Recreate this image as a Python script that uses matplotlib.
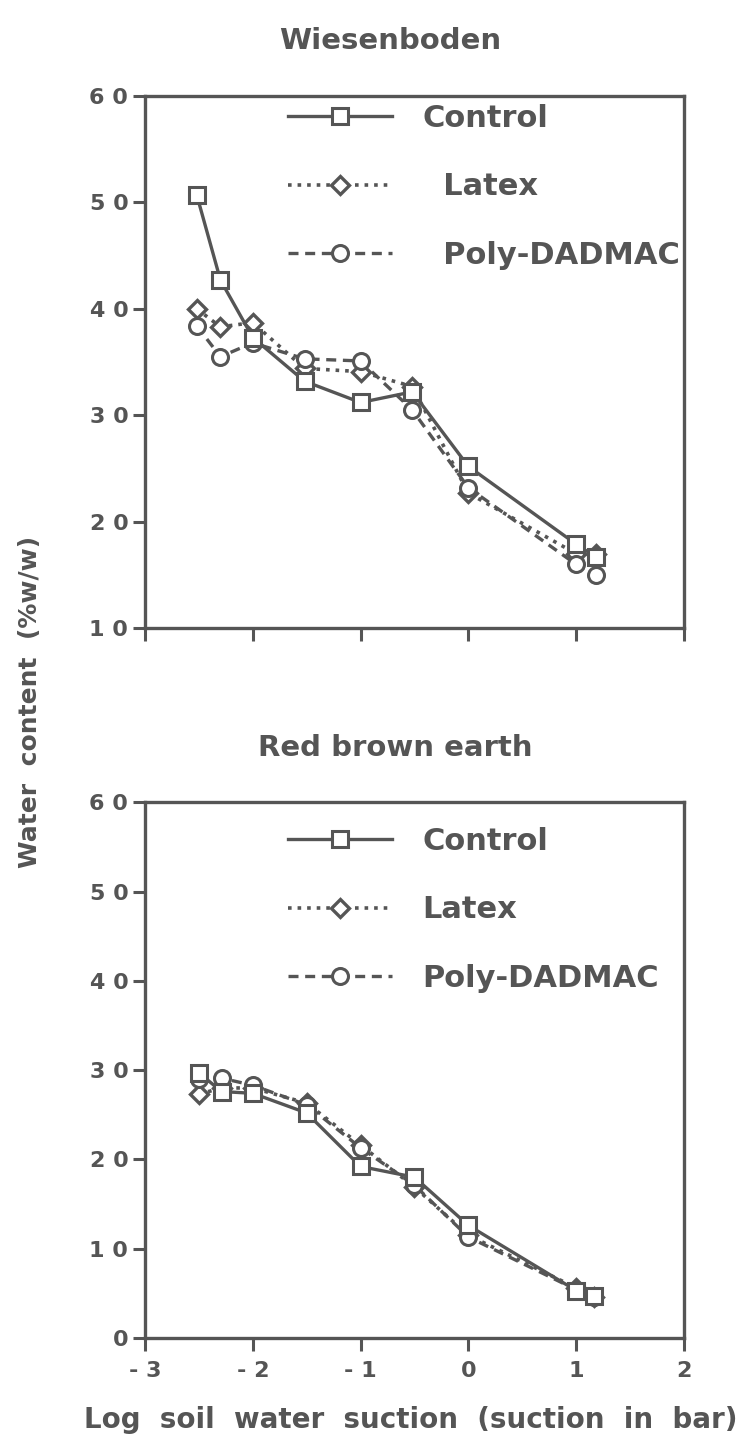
import numpy as np
import matplotlib
matplotlib.use("Agg")
import matplotlib.pyplot as plt

plt.rcParams['font.family'] = ['DejaVu Sans']
plt.rcParams['font.weight'] = 'bold'

ink = '#555555'

# Wiesenboden
wb_ctrl_x = [-2.52, -2.30, -2.0, -1.52, -1.0, -0.52, 0.0, 1.0, 1.18]
wb_ctrl_y = [50.7, 42.7, 37.3, 33.2, 31.2, 32.2, 25.2, 17.9, 16.7]
wb_latex_x = [-2.52, -2.30, -2.0, -1.52, -1.0, -0.52, 0.0, 1.0, 1.18]
wb_latex_y = [40.0, 38.3, 38.7, 34.4, 34.1, 32.7, 22.7, 17.0, 17.0]
wb_poly_x = [-2.52, -2.30, -2.0, -1.52, -1.0, -0.52, 0.0, 1.0, 1.18]
wb_poly_y = [38.4, 35.5, 36.8, 35.3, 35.1, 30.5, 23.2, 16.0, 15.0]

# Red brown earth
rb_ctrl_x = [-2.50, -2.29, -2.0, -1.50, -1.0, -0.50, 0.0, 1.0, 1.17]
rb_ctrl_y = [29.7, 27.6, 27.4, 25.2, 19.2, 18.0, 12.6, 5.3, 4.7]
rb_latex_x = [-2.50, -2.29, -2.0, -1.50, -1.0, -0.50, 0.0, 1.0, 1.17]
rb_latex_y = [27.3, 28.0, 28.0, 26.3, 21.6, 16.9, 11.5, 5.6, 4.6]
rb_poly_x = [-2.50, -2.29, -2.0, -1.50, -1.0, -0.50, 0.0, 1.0, 1.17]
rb_poly_y = [29.0, 29.1, 28.3, 26.1, 21.3, 17.1, 11.3, 5.4, 4.6]

x_ticks = [-3, -2, -1, 0, 1, 2]
x_labels = ['- 3', '- 2', '- 1', '0', '1', '2']
wb_yticks = [10, 20, 30, 40, 50, 60]
rb_yticks = [0, 10, 20, 30, 40, 50, 60]
wb_names = ['Control', '  Latex', '  Poly-DADMAC']
rb_names = ['Control', 'Latex', 'Poly-DADMAC']

fig = plt.figure(figsize=(7.37, 14.51), dpi=100)
ax1 = fig.add_axes([0.1967, 0.567, 0.7313, 0.367])
ax2 = fig.add_axes([0.1967, 0.078, 0.7313, 0.369])


def draw(ax, cx, cy, lx, ly, px, py, yticks, ylim, names, leg_y):
    ax.plot(cx, cy, '-', color=ink, lw=2.4, marker='s', ms=12, mfc='white',
            mec=ink, mew=2.2, label=names[0], zorder=3)
    ax.plot(lx, ly, ':', color=ink, lw=2.6, marker='D', ms=9, mfc='white',
            mec=ink, mew=2.4, label=names[1], zorder=2)
    ax.plot(px, py, '--', color=ink, lw=2.4, marker='o', ms=11.5, mfc='white',
            mec=ink, mew=2.2, label=names[2], zorder=2, dashes=(3, 2))
    ax.set_xlim(-3, 2)
    ax.set_ylim(*ylim)
    ax.set_xticks(x_ticks)
    ax.set_xticklabels(x_labels)
    ax.set_yticks(yticks)
    ax.set_yticklabels([' '.join(str(v)) for v in yticks])
    ax.tick_params(direction='out', length=9, width=2.2, color=ink,
                   labelcolor=ink, labelsize=16, pad=3)
    ax.tick_params(axis='x', pad=8)
    for s in ax.spines.values():
        s.set_color(ink)
        s.set_linewidth(2.4)
    leg = ax.legend(loc='upper left', bbox_to_anchor=(0.215, leg_y),
                    frameon=False, fontsize=22, handlelength=3.4,
                    labelspacing=1.30, handletextpad=0.98)
    for t in leg.get_texts():
        t.set_color(ink)


draw(ax1, wb_ctrl_x, wb_ctrl_y, wb_latex_x, wb_latex_y, wb_poly_x, wb_poly_y,
     wb_yticks, (10, 60), wb_names, 1.037)
draw(ax2, rb_ctrl_x, rb_ctrl_y, rb_latex_x, rb_latex_y, rb_poly_x, rb_poly_y,
     rb_yticks, (0, 60), rb_names, 1.006)
ax1.set_xticklabels([])

fig.text(0.530, 0.9715, 'Wiesenboden', ha='center', va='center',
         fontsize=21, color=ink)
fig.text(0.536, 0.4845, 'Red brown earth', ha='center', va='center',
         fontsize=21, color=ink)
fig.text(0.041, 0.5165, 'Water  content  (%w/w)', rotation=90, ha='center',
         va='center', fontsize=18, color=ink)
fig.text(0.558, 0.0214, 'Log  soil  water  suction  (suction  in  bar)',
         ha='center', va='center', fontsize=20, color=ink)

fig.savefig('out.png', dpi=100)
